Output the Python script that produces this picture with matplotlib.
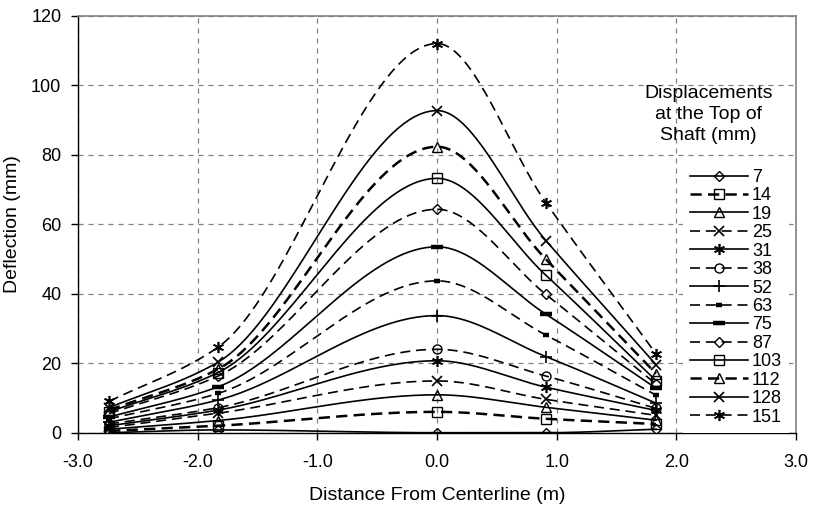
import numpy as np
import matplotlib.pyplot as plt
from matplotlib.ticker import FormatStrFormatter

plt.rcParams['font.family'] = ['Liberation Sans', 'DejaVu Sans']
plt.rcParams['axes.unicode_minus'] = False

# gauge positions across the section (m)
distance = [-2.74, -1.83, 0.0, 0.91, 1.83]

# top-of-shaft displacement for each run (mm)
runs = [7, 14, 19, 25, 31, 38, 52, 63, 75, 87, 103, 112, 128, 151]

# measured deflections (mm), one list per run
defl_7 = [0.0, 0.8, 0.0, 0.0, 1.0]
defl_14 = [0.5, 2.0, 6.0, 4.0, 2.5]
defl_19 = [1.0, 3.5, 10.9, 7.3, 3.6]
defl_25 = [1.5, 5.6, 14.9, 9.6, 5.0]
defl_31 = [2.0, 6.5, 20.7, 13.1, 6.4]
defl_38 = [2.5, 7.2, 24.0, 16.3, 7.0]
defl_52 = [3.0, 9.4, 33.7, 21.9, 8.5]
defl_63 = [4.0, 11.3, 43.7, 28.1, 10.8]
defl_75 = [4.5, 13.2, 53.5, 34.1, 12.8]
defl_87 = [5.5, 16.3, 64.3, 39.8, 14.0]
defl_103 = [6.0, 17.3, 73.2, 45.3, 15.0]
defl_112 = [6.5, 18.3, 82.3, 49.9, 17.0]
defl_128 = [7.2, 20.3, 92.7, 55.3, 19.6]
defl_151 = [9.0, 24.6, 112.0, 66.2, 22.7]

deflections = [defl_7, defl_14, defl_19, defl_25, defl_31, defl_38, defl_52,
               defl_63, defl_75, defl_87, defl_103, defl_112, defl_128, defl_151]

star = (6, 2, 0)
dash = (6, 3.5)
long_dash = (4.5, 2.5)
styles = [
    # marker, size, line dashes, line width, marker edge width
    ('D', 5.5, None, 1.2, 1.0),
    ('s', 6.5, long_dash, 1.8, 1.0),
    ('^', 6.5, None, 1.2, 1.0),
    ('x', 7, dash, 1.2, 1.2),
    (star, 8, None, 1.2, 1.2),
    ('o', 6.5, dash, 1.2, 1.0),
    ('+', 9, None, 1.2, 1.2),
    ('_', 4, dash, 1.2, 3.2),
    ('_', 8, None, 1.2, 3.2),
    ('D', 5.5, dash, 1.2, 1.0),
    ('s', 6.5, None, 1.2, 1.0),
    ('^', 6.5, long_dash, 1.8, 1.0),
    ('x', 7, None, 1.2, 1.2),
    (star, 8, dash, 1.2, 1.2),
]


def smooth(xs, ys, n=40):
    # shape-preserving cubic (Fritsch-Carlson) so peaks sit on the gauges
    x = np.asarray(xs, float)
    y = np.asarray(ys, float)
    h = np.diff(x)
    d = np.diff(y) / h
    m = np.zeros_like(y)
    for k in range(1, len(x) - 1):
        if d[k - 1] * d[k] > 0:
            w1 = 2 * h[k] + h[k - 1]
            w2 = h[k] + 2 * h[k - 1]
            m[k] = (w1 + w2) / (w1 / d[k - 1] + w2 / d[k])
    m[0] = d[0]
    m[-1] = d[-1]
    px, py = [], []
    for k in range(len(x) - 1):
        t = np.linspace(0, 1, n)
        if k > 0:
            t = t[1:]
        h00 = 2 * t**3 - 3 * t**2 + 1
        h10 = t**3 - 2 * t**2 + t
        h01 = -2 * t**3 + 3 * t**2
        h11 = t**3 - t**2
        px.append(x[k] + t * h[k])
        py.append(h00 * y[k] + h10 * h[k] * m[k] + h01 * y[k + 1] + h11 * h[k] * m[k + 1])
    return np.concatenate(px), np.concatenate(py), [k * (n - 1) for k in range(len(x))]


fig = plt.figure(figsize=(8.16, 5.07), dpi=100)
ax = fig.add_axes([78 / 816, 1 - 432.7 / 507, 718 / 816, 417 / 507])

for run, ys, (mk, ms, dsh, lw, mew) in zip(runs, deflections, styles):
    sx, sy, idx = smooth(distance, ys)
    line, = ax.plot(sx, sy, color='black', lw=lw, marker=mk, markersize=ms,
                    markevery=idx, markerfacecolor='none', markeredgecolor='black',
                    markeredgewidth=mew, label=str(run), zorder=3)
    if dsh is not None:
        line.set_dashes(dsh)

ax.set_xlim(-3, 3)
ax.set_ylim(0, 120)
ax.set_xticks(np.arange(-3, 3.1, 1))
ax.set_yticks(np.arange(0, 121, 20))
ax.xaxis.set_major_formatter(FormatStrFormatter('%.1f'))
ax.tick_params(direction='out', length=5, width=1, labelsize=13, colors='black')
ax.tick_params(axis='x', pad=10)
ax.tick_params(axis='y', pad=7)

ax.grid(True, color='#808080', linestyle=(0, (4, 4)), lw=0.9, zorder=0)
ax.set_axisbelow(True)
for side in ('top', 'right'):
    ax.spines[side].set_color('#808080')
    ax.spines[side].set_linewidth(1.2)
for side in ('left', 'bottom'):
    ax.spines[side].set_linewidth(1.0)

ax.set_xlabel('Distance From Centerline (m)', fontsize=14, labelpad=12)
ax.set_ylabel('Deflection (mm)', fontsize=14, labelpad=7)

ax.text(2.27, 91.5, 'Displacements\nat the Top of\nShaft (mm)', ha='center', va='center',
        fontsize=14, linespacing=1.3)

leg = ax.legend(loc='upper left', bbox_to_anchor=(0.843, 0.65), fontsize=13,
                frameon=True, fancybox=False, borderpad=0.4, borderaxespad=0,
                handlelength=3.2, handletextpad=0.2, labelspacing=0.08)
leg.get_frame().set_facecolor('white')
leg.get_frame().set_edgecolor('none')
leg.get_frame().set_alpha(1)

fig.savefig('out.png', dpi=100)
